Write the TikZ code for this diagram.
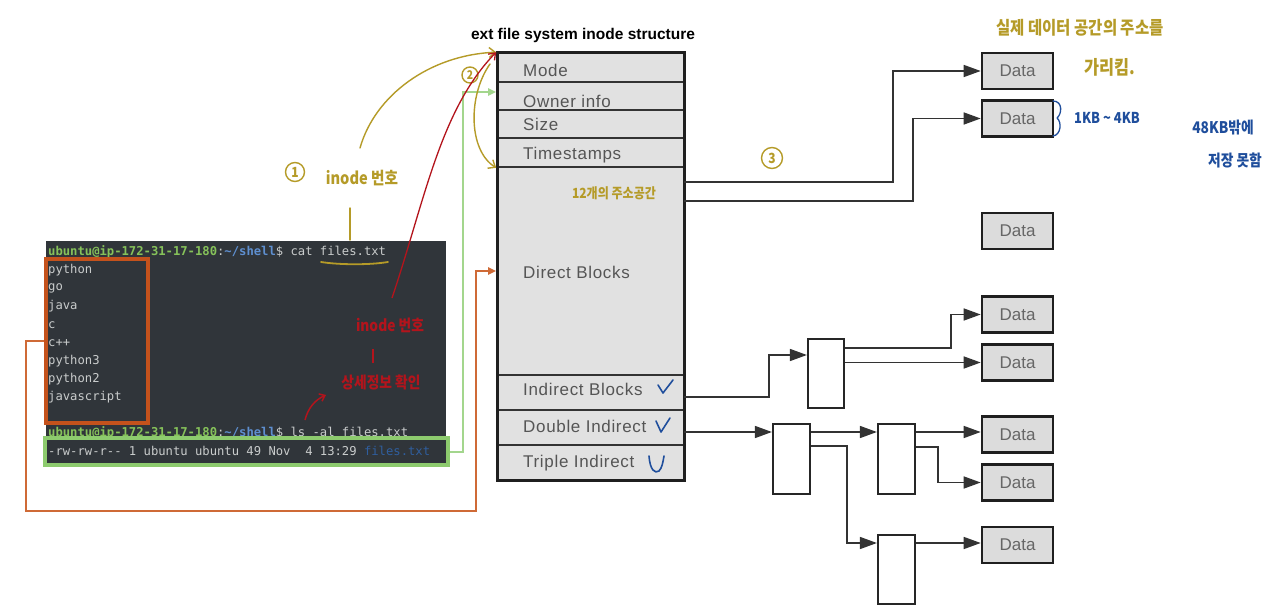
\documentclass[tikz,border=0pt]{standalone}
\usepackage{fontspec}
\setmainfont{Liberation Sans}
\newfontfamily\monof{DejaVu Sans Mono}
\newfontfamily\krf[FakeStretch=0.86]{Noto Sans CJK KR}
\newfontfamily\lblf[LetterSpace=4]{Liberation Sans}
\usetikzlibrary{arrows.meta,calc}
\definecolor{termbg}{HTML}{30353A}
\definecolor{ttext}{HTML}{C9CCCC}
\definecolor{pgreen}{HTML}{86C25A}
\definecolor{pblue}{HTML}{5E8FD0}
\definecolor{fblue}{HTML}{2F5E9E}
\definecolor{orangeC}{HTML}{C4521C}
\definecolor{orangeL}{HTML}{CF6A36}
\definecolor{greenC}{HTML}{8DCB6E}
\definecolor{greenL}{HTML}{A3D68D}
\definecolor{boxfill}{HTML}{E1E1E1}
\definecolor{datafill}{HTML}{DCDCDC}
\definecolor{lblgray}{HTML}{555555}
\definecolor{oliveH}{HTML}{B59B28}
\definecolor{redH}{HTML}{B3141C}
\definecolor{blueH}{HTML}{1F4E9C}
\tikzset{
  row/.style={draw=black!80, line width=1.6pt, fill=boxfill, minimum width=187pt, inner sep=0pt},
  lbl/.style={anchor=west, inner sep=0pt, text=lblgray, font=\lblf\fontsize{17}{20}\selectfont},
  databox/.style={draw=black!88, line width=2.6pt, fill=datafill, minimum width=71pt, minimum height=36pt, inner sep=0pt, text=black!60, font=\fontsize{17}{20}\selectfont},
  blk/.style={draw=black!85, line width=2.2pt, fill=white, minimum width=37pt, minimum height=70pt, inner sep=0pt},
  conn/.style={draw=black!80, line width=1.5pt, -{Triangle[length=17pt,width=12pt]}},
  tline/.style={anchor=west, inner sep=0pt, text=ttext, font=\monof\fontsize{12.2}{14}\selectfont},
  olv/.style={draw=oliveH, line width=1.4pt, line cap=round},
  olvtip/.style={olv, -{Straight Barb[length=6pt,width=10pt]}},
  olvtxt/.style={text=oliveH, inner sep=0pt, font=\krf\bfseries},
  olvc/.style={draw=oliveH, line width=1.4pt, circle, inner sep=0pt, text=oliveH, font=\krf\bfseries\fontsize{14}{14}\selectfont},
  redtxt/.style={text=redH, inner sep=0pt, font=\krf\bfseries\fontsize{16}{18}\selectfont},
  bluetxt/.style={text=blueH, inner sep=0pt, font=\krf\bfseries\fontsize{15}{17}\selectfont},
  bluestroke/.style={draw=blueH, line width=1.6pt, line cap=round, line join=round}
}
\begin{document}
\begin{tikzpicture}[x=1pt,y=-1pt]
\useasboundingbox[fill=white] (0,0) rectangle (1280,612);

% ---- title
\node[font=\bfseries\fontsize{15.5}{18}\selectfont, inner sep=0pt] (title) at (583,35) {ext file system inode structure};

% ---- inode rows
\node[row, minimum height=29pt] (mode)   at (590.5,67.5) {};
\node[row, minimum height=28pt] (owner)  at (590.5,96) {};
\node[row, minimum height=28pt] (size)   at (590.5,124) {};
\node[row, minimum height=29pt] (time)   at (590.5,152.5) {};
\node[row, minimum height=208pt] (direct) at (590.5,271) {};
\node[row, minimum height=35pt] (ind)    at (590.5,392.5) {};
\node[row, minimum height=35pt] (dbl)    at (590.5,427.5) {};
\node[row, minimum height=35pt] (tri)    at (590.5,462.5) {};
\node[draw=black!88, line width=3pt, minimum width=187pt, minimum height=427pt, inner sep=0pt] (inode) at (590.5,266.5) {};

\node[lbl] (modeT)   at (523,70)  {Mode};
\node[lbl] (ownerT)  at (523,101) {Owner info};
\node[lbl] (sizeT)   at (523,124) {Size};
\node[lbl] (timeT)   at (523,155) {Timestamps};
\node[lbl] (directT) at (523,272) {Direct Blocks};
\node[lbl] (indT)    at (523,389) {Indirect Blocks};
\node[lbl] (dblT)    at (523,426) {Double Indirect};
\node[lbl] (triT)    at (523,463) {Triple Indirect};

% ---- data boxes
\node[databox] (data1) at (1017.5,71) {Data};
\node[databox] (data2) at (1017.5,118.5) {Data};
\node[databox] (data3) at (1017.5,231) {Data};
\node[databox] (data4) at (1017.5,314.5) {Data};
\node[databox] (data5) at (1017.5,362.5) {Data};
\node[databox] (data6) at (1017.5,434.5) {Data};
\node[databox] (data7) at (1017.5,482.5) {Data};
\node[databox] (data8) at (1017.5,545) {Data};

% ---- indirect blocks
\node[blk, minimum width=36pt, minimum height=69pt] (b1) at (826,373.5) {};
\node[blk] (b2) at (791.5,459) {};
\node[blk] (b3) at (896.5,459) {};
\node[blk, minimum height=69pt] (b4) at (896.5,569.5) {};

% ---- connectors
\coordinate (d1s) at (684,182);
\coordinate (d2s) at (684,201);
\coordinate (is)  at (684,397);
\coordinate (ds)  at (684,432);
\draw[conn] (d1s) -- ++(209,0) |- (data1.west);
\draw[conn] (d2s) -- ++(229,0) |- (data2.west);
\draw[conn] (is) -- ++(85,0) |- ($(b1.west)+(0,-18.5)$);
\draw[conn] ($(b1.east)+(0,-25.5)$) -- ++(106,0) |- (data4.west);
\draw[conn] (b1.east |- data5.west) -- (data5.west);
\draw[conn] (ds) -- (b2.west |- ds);
\draw[conn] (b2.east |- ds) -- (b3.west |- ds);
\draw[conn] ($(b2.east)+(0,-13)$) -- ++(36,0) |- ($(b4.west)+(0,-26.5)$);
\draw[conn] (b3.east |- ds) -- (data6.west |- ds);
\draw[conn] ($(b3.east)+(0,-12)$) -- ++(22,0) |- (data7.west);
\draw[conn] ($(b4.east)+(0,-26.5)$) -- (data8.west |- 0,543);

% ---- terminal
\node[fill=termbg, minimum width=400pt, minimum height=222pt, inner sep=0pt] (term) at (246,352) {};
\node[tline] (t0) at (48,252) {\textcolor{pgreen}{\bfseries ubuntu@ip-172-31-17-180}:\textcolor{pblue}{\bfseries\textasciitilde/shell}\$ cat files.txt};
\node[tline] (t1) at (48,270) {python};
\node[tline] (t2) at (48,288) {go};
\node[tline] (t3) at (48,306) {java};
\node[tline] (t4) at (48,325) {c};
\node[tline] (t5) at (48,343) {c++};
\node[tline] (t6) at (48,361) {python3};
\node[tline] (t7) at (48,379) {python2};
\node[tline] (t8) at (48,397) {javascript};
\node[tline] (t9) at (48,433) {\textcolor{pgreen}{\bfseries ubuntu@ip-172-31-17-180}:\textcolor{pblue}{\bfseries\textasciitilde/shell}\$ ls -al files.txt};
\node[tline] (t10) at (48,451) {-rw-rw-r-- 1 ubuntu ubuntu 49 Nov\ \ 4 13:29 \textcolor{fblue}{files.txt}};

\node[draw=orangeC, line width=4pt, minimum width=102pt, minimum height=164pt, inner sep=0pt] (obox) at (97,341) {};
\node[draw=greenC, line width=4pt, minimum width=403pt, minimum height=27pt, inner sep=0pt] (gbox) at (246.5,451.5) {};

% ---- orange and green links
\coordinate (oc1) at (26,511);
\coordinate (oc2) at (476,511);
\draw[draw=orangeL, line width=2pt, -{Triangle[length=8pt,width=7pt]}] (obox.west) -| (oc1) -- (oc2) |- (direct.west);
\coordinate (gc) at (463,92);
\draw[draw=greenL, line width=2pt, -{Triangle[length=8pt,width=7pt]}] (gbox.east) -| (gc) -- (owner.west |- gc);

% ---- olive handwriting
\node[olvc, minimum size=19pt] (c1) at (295,172) {1};
\node[olvtxt, font=\krf\bfseries\fontsize{17}{19}\selectfont] (inodeno) at (362,178) {inode 번호};
\coordinate (lt) at (350,208);
\coordinate (lb) at (350,240);
\draw[olv] (lt) -- (lb);
\coordinate (ul1) at (321,262);
\coordinate (ul2) at (388,262);
\draw[olv, line width=1.8pt] (ul1) .. controls (340,265) and (370,265) .. (ul2);
\coordinate (ca) at (360,148);
\draw[olvtip] (ca) .. controls (375,95) and (430,55) .. (mode.north west);
\node[olvc, minimum size=16pt, font=\krf\bfseries\fontsize{12}{12}\selectfont] (c2) at (470,75) {2};
\coordinate (cb) at (490,64);
\draw[olvtip] (cb) .. controls (468,95) and (468,150) .. (time.south west);
\node[olvtxt, font=\krf\bfseries\fontsize{14}{16}\selectfont] (twelve) at (614,193) {12개의 주소공간};
\node[olvc, minimum size=21pt] (c3) at (772,158) {3};
\node[olvtxt, font=\krf\bfseries\fontsize{18}{20}\selectfont] (realdata) at (1080,28) {실제 데이터 공간의 주소를};
\node[olvtxt, font=\krf\bfseries\fontsize{19}{21}\selectfont] (points) at (1110,67) {가리킴.};

% ---- red handwriting
\coordinate (rs) at (392,298);
\draw[draw=redH, line width=1.3pt, -{Straight Barb[length=6pt,width=9pt]}] (rs) .. controls (425,200) and (440,110) .. (mode.north west);
\node[redtxt] (rinode) at (390,325) {inode 번호};
\coordinate (rl1) at (373,349);
\coordinate (rl2) at (373,363);
\draw[draw=redH, line width=1.5pt] (rl1) -- (rl2);
\node[redtxt] (rdetail) at (381,382) {상세정보 확인};
\coordinate (ra1) at (305,420);
\coordinate (ra2) at (326,395);
\draw[draw=redH, line width=1.5pt, -{Straight Barb[length=5pt,width=8pt]}] (ra1) .. controls (308,408) and (315,400) .. (ra2);

% ---- blue handwriting
\coordinate (br1) at (1053,101);
\coordinate (br2) at (1053,136);
\draw[bluestroke, line width=1.3pt] (br1) .. controls (1063,101) and (1062,114) .. (1057,118) .. controls (1062,122) and (1061,135) .. (br2);
\node[bluetxt] (kb) at (1107,118) {1KB \textasciitilde{} 4KB};
\node[bluetxt, font=\krf\bfseries\fontsize{16}{18}\selectfont] (k48) at (1223,128) {48KB밖에};
\node[bluetxt, font=\krf\bfseries\fontsize{16}{18}\selectfont] (cannot) at (1235,160) {저장 못함};
\coordinate (ck1) at (658,385);
\draw[bluestroke] (ck1) -- (663,393) -- (673,380);
\coordinate (ck2) at (656,421);
\draw[bluestroke] (ck2) -- (661,432) -- (670,418);
\coordinate (ck3) at (649,456);
\draw[bluestroke] (ck3) .. controls (650,470) and (655,474) .. (659,471) .. controls (662,468) and (663,462) .. (664,456);
\end{tikzpicture}
\end{document}
